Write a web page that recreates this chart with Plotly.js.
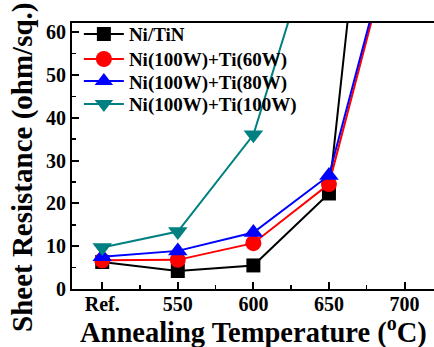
<!DOCTYPE html>
<html><head><meta charset="utf-8">
<script src="https://cdn.plot.ly/plotly-3.0.1.min.js"></script>
<style>html,body{margin:0;padding:0;background:#fff;}#c{width:434px;height:347px;}</style>
</head><body><div id="c"></div>
<script>
const temps = [500, 550, 600, 650, 700];
const tickLabels = ['Ref.', '550', '600', '650', '700'];
const niTiN = [6.3, 4.2, 5.5, 22.3, 185];
const ti60 = [6.7, 6.8, 10.7, 24.5, 92];
const ti80 = [7.5, 8.9, 13.2, 26.5, 93];
const ti100 = [9.7, 13.4, 36, 93, null];

const names = ['Ni/TiN', 'Ni(100W)+Ti(60W)', 'Ni(100W)+Ti(80W)', 'Ni(100W)+Ti(100W)'];
const series = [niTiN, ti60, ti80, ti100];
const colors = ['#000000', '#ff0000', '#0000ff', '#008080'];
const symbols = ['square', 'circle', 'triangle-up', 'triangle-down'];
const sizes = [14, 16, 17, 17];
const legendIds = ['legend', 'legend2', 'legend3', 'legend4'];
const legendY = [0.958, 0.864, 0.781, 0.695];
const xTitle = 'Annealing Temperature (<sup>o</sup>C)';
const yTitle = 'Sheet Resistance (ohm/sq.)';

const F = 'Liberation Serif';
const traces = series.map((s, i) => ({
  x: temps, y: s, name: names[i],
  type: 'scatter', mode: 'lines+markers',
  line: {color: colors[i], width: 2},
  marker: {symbol: symbols[i], size: sizes[i], color: colors[i]},
  legend: legendIds[i]
}));

const layout = {
  width: 434, height: 347,
  margin: {l: 72, r: 0, t: 23, b: 58},
  paper_bgcolor: '#fff', plot_bgcolor: '#fff',
  font: {family: F, color: '#000', size: 18, weight: 'bold'},
  showlegend: true,
  xaxis: {
    range: [480, 719.5], tickmode: 'array', tickvals: temps, ticktext: tickLabels,
    ticks: 'inside', ticklen: 7, tickwidth: 2, tickcolor: '#000',
    showline: true, linewidth: 2, linecolor: '#000', mirror: true,
    showgrid: false, zeroline: false, automargin: false, ticklabelstandoff: -4,
    minor: {tickmode: 'array', tickvals: [525, 575, 625, 675], ticks: 'inside', ticklen: 4, tickwidth: 1.5, tickcolor: '#000'},
    tickfont: {family: F, size: 20, weight: 'bold'}
  },
  yaxis: {
    range: [0, 62.1], tickmode: 'linear', tick0: 0, dtick: 10,
    ticks: 'inside', ticklen: 7, tickwidth: 2, tickcolor: '#000',
    showline: true, linewidth: 2, linecolor: '#000', mirror: false,
    showgrid: false, zeroline: false, automargin: false,
    minor: {dtick: 5, ticks: 'inside', ticklen: 4, tickwidth: 1.5, tickcolor: '#000'},
    tickfont: {family: F, size: 20, weight: 'bold'}
  },
  annotations: [
    {text: xTitle, xref: 'paper', yref: 'paper', x: (253 - 72) / 362, y: (289 - 330) / 266,
     xanchor: 'center', yanchor: 'middle', showarrow: false, borderpad: 0,
     font: {family: F, size: 28.5, weight: 'bold', color: '#000'}},
    {text: yTitle, xref: 'paper', yref: 'paper', x: (22 - 72) / 362, y: (289 - 168) / 266,
     xanchor: 'center', yanchor: 'middle', showarrow: false, textangle: -90,
     font: {family: F, size: 29, weight: 'bold', color: '#000'}}
  ]
};
legendIds.forEach((id, i) => {
  layout[id] = {x: 0.019, y: legendY[i], xanchor: 'left', yanchor: 'middle',
    bgcolor: 'rgba(0,0,0,0)', itemwidth: 40,
    font: {family: F, size: 19, weight: 'bold', color: '#000'}};
});
Plotly.newPlot('c', traces, layout, {displayModeBar: false, staticPlot: true});
</script></body></html>
